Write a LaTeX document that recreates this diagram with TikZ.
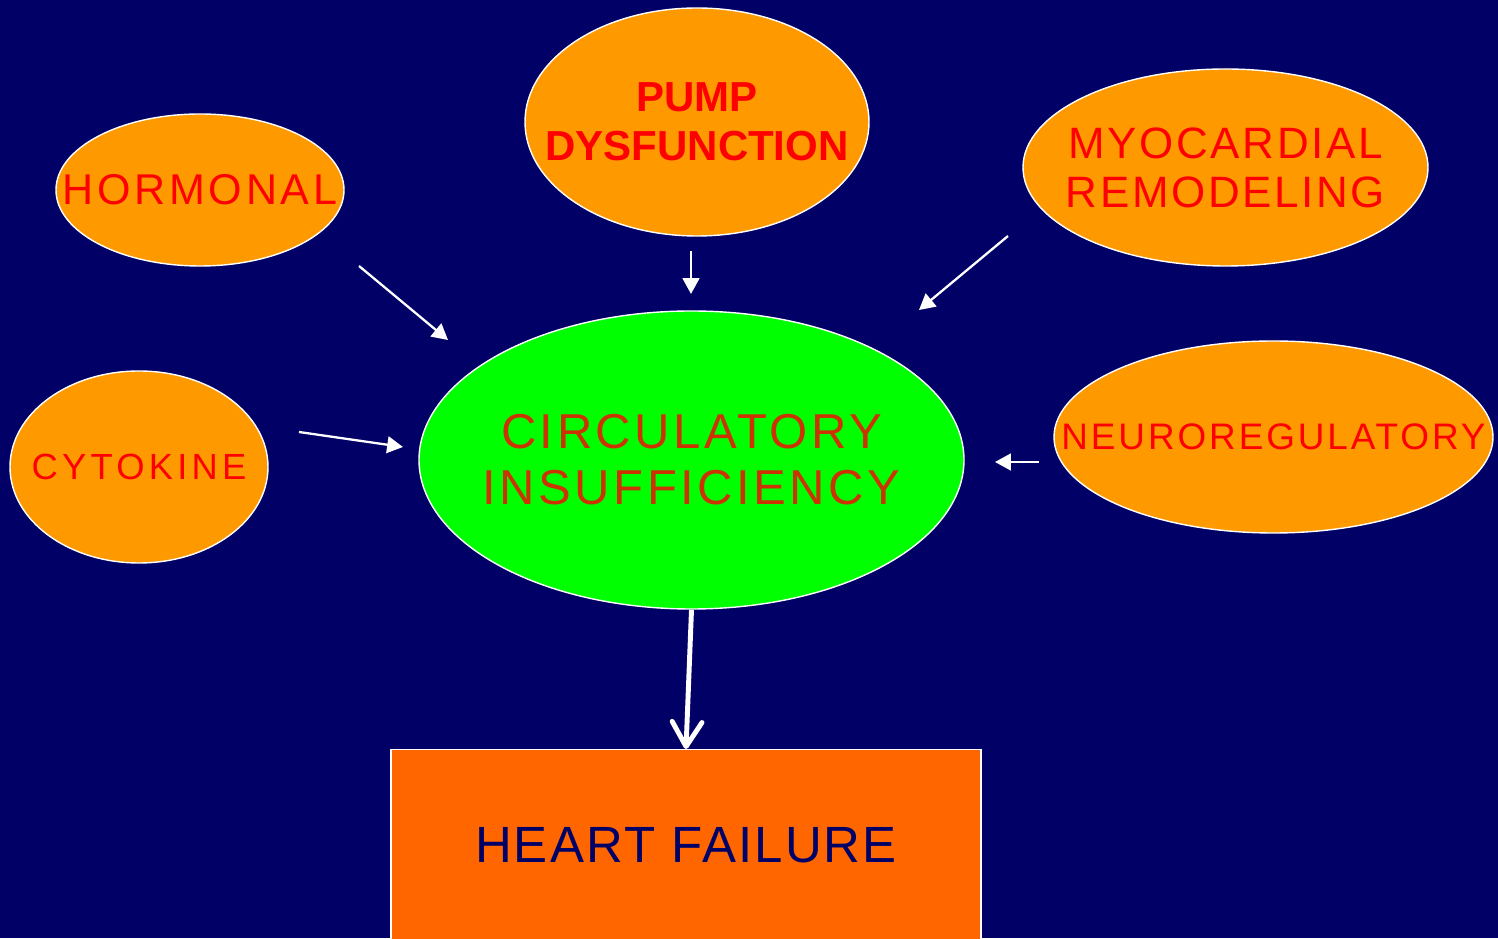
\documentclass[tikz,border=0pt]{standalone}
\usepackage{fontspec}
\setmainfont{Liberation Sans}
\usetikzlibrary{shapes.geometric,arrows.meta,calc}
\definecolor{navy}{RGB}{0,0,102}
\definecolor{pumpkin}{RGB}{255,153,0}
\definecolor{lime}{RGB}{0,255,0}
\definecolor{rust}{RGB}{204,51,0}
\definecolor{blaze}{RGB}{255,102,0}
\newcommand{\setsize}[2]{\fontsize{#1}{#2}\selectfont}
\tikzset{
  blob/.style={ellipse, draw=white, line width=0.8pt, fill=pumpkin, inner sep=0pt},
  lbl/.style={text=red, align=center},
  arr/.style={white, line width=1.3pt, -{Triangle[length=9pt,width=9.5pt]}},
  bigarr/.style={white, line width=2.8pt, -{Straight Barb[length=14pt,width=17pt,line cap=round,line join=round]}}
}

\begin{document}
\begin{tikzpicture}
            \clip (0,0) rectangle (29.96,18.76);
            \fill[navy] (0,0) rectangle (29.96,18.76);
            \node[blob, minimum width=5.76cm, minimum height=3.04cm, label={[lbl, font=\setsize{24.5}{28}\addfontfeature{LetterSpace=8.6}]center:HORMONAL}] (Hormonal) at (4.00,14.96) {};
            \node[blob, minimum width=6.88cm, minimum height=4.56cm, label={[lbl, font=\setsize{23.9}{27.9}\bfseries]center:PUMP\\DYSFUNCTION}] (Pump) at (13.94,16.32) {};
            \node[blob, minimum width=8.10cm, minimum height=3.94cm, label={[lbl, font=\setsize{25}{27.9}\addfontfeature{LetterSpace=6}]center:MYOCARDIAL\\REMODELING}] (Myo) at (24.51,15.41) {};
            \node[blob, minimum width=5.16cm, minimum height=3.84cm, label={[lbl, font=\setsize{20.7}{24}\addfontfeature{LetterSpace=11.6}]center:CYTOKINE}] (Cyto) at (2.78,9.42) {};
            \node[blob, minimum width=8.78cm, minimum height=3.84cm, label={[lbl, font=\setsize{21}{24}\addfontfeature{LetterSpace=7.9}]center:NEUROREGULATORY}] (Neuro) at (25.47,10.02) {};
            \node[blob, fill=lime, minimum width=10.90cm, minimum height=5.96cm, label={[lbl, text=rust, font=\setsize{27.9}{31.9}\addfontfeature{LetterSpace=7.1}]center:CIRCULATORY\\INSUFFICIENCY}] (Circ) at (13.83,9.56) {};
            \node[draw=white, line width=0.8pt, fill=blaze, minimum width=11.8cm, minimum height=4.4cm, anchor=north, label={[text=navy, yshift=0.28cm, font=\setsize{29}{32}\addfontfeature{LetterSpace=4.2}]center:HEART FAILURE}] (Heart) at (13.72,3.78) {};
            \coordinate (Horm0) at (7.18,13.44);
            \coordinate (Horm1) at (8.96,11.96);
            \coordinate (Pump0) at (13.82,13.74);
            \coordinate (Pump1) at ($(Pump0)+(0,-0.86)$);
            \coordinate (Myo0) at (20.16,14.04);
            \coordinate (Myo1) at (18.38,12.56);
            \coordinate (Cyto0) at (5.98,10.12);
            \coordinate (Cyto1) at (8.06,9.82);
            \coordinate (Neuro0) at (20.78,9.52);
            \coordinate (Neuro1) at ($(Neuro0)+(-0.88,0)$);
            \draw[arr] (Horm0) -- (Horm1);
            \draw[arr] (Pump0) -- (Pump1);
            \draw[arr] (Myo0) -- (Myo1);
            \draw[arr] (Cyto0) -- (Cyto1);
            \draw[arr] (Neuro0) -- (Neuro1);
            \draw[bigarr] (Circ.south) -- (Heart.north);
        \end{tikzpicture}
\end{document}
